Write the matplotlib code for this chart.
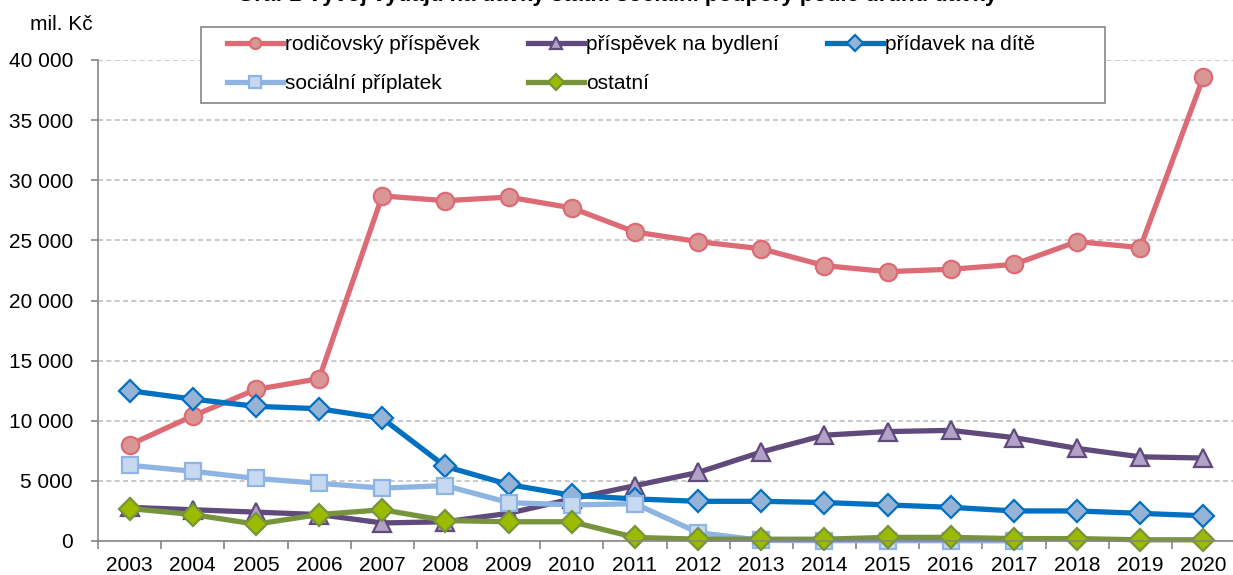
import numpy as np
import matplotlib.pyplot as plt
from matplotlib.patches import Rectangle
from matplotlib.ticker import FuncFormatter, MultipleLocator

plt.rcParams["font.family"] = ["Liberation Sans", "DejaVu Sans"]

years = list(range(2003, 2021))

rodicovsky = [8000, 10400, 12600, 13500, 28700, 28300, 28600, 27700, 25700,
              24900, 24300, 22900, 22400, 22600, 23000, 24900, 24400, 38600]
bydleni = [2800, 2600, 2400, 2200, 1500, 1600, 2300, 3500, 4600,
           5700, 7400, 8800, 9100, 9200, 8600, 7700, 7000, 6900]
pridavek = [12500, 11800, 11200, 11000, 10200, 6200, 4700, 3800, 3500,
            3300, 3300, 3200, 3000, 2800, 2500, 2500, 2300, 2100]
socialni = [6300, 5800, 5200, 4800, 4400, 4600, 3200, 3000, 3100,
            700, 50, 30, 20, 20, 10]
ostatni = [2700, 2200, 1400, 2200, 2600, 1700, 1600, 1600, 300,
           150, 150, 150, 300, 300, 200, 200, 100, 100]

series = [
    ("rodičovský příspěvek", rodicovsky, "#DC6B76", "o", "#D99694", 12.5),
    ("příspěvek na bydlení", bydleni, "#604A7B", "^", "#B3A2C7", 12.5),
    ("přídavek na dítě", pridavek, "#0070C0", "D", "#95B3D7", 11),
    ("sociální příplatek", socialni, "#8EB4E3", "s", "#C6D9F1", 11.5),
    ("ostatní", ostatni, "#77933C", "D", "#9BBB00", 11),
]

W, H = 1233, 575
FS = 15
fig = plt.figure(figsize=(W / 100, H / 100), dpi=100)
ax = fig.add_axes([98 / W, 1 - 541 / H, (1235 - 98) / W, (541 - 60) / H])

x = np.arange(len(years))
for name, vals, col, mk, fc, ms in series:
    ax.plot(x[:len(vals)], vals, color=col, lw=3.8, marker=mk, ms=ms,
            mfc=fc, mec=col, mew=1.6, label=name, clip_on=False)

ax.set_xlim(-0.5, len(years) - 0.5)
ax.set_ylim(0, 40000)
ax.yaxis.set_major_locator(MultipleLocator(5000))
ax.yaxis.set_major_formatter(FuncFormatter(lambda v, p: f"{int(v):,}".replace(",", " ")))
ax.set_xticks(x)
ax.set_xticklabels([str(y) for y in years])
ax.set_xticks(np.arange(-0.5, len(years)), minor=True)
ax.tick_params(axis="x", which="major", length=0, pad=11, labelsize=FS)
ax.tick_params(axis="x", which="minor", length=6, color="#868686", width=1.2)
ax.tick_params(axis="y", length=5, color="#868686", width=1.2, labelsize=FS, pad=13)

ax.grid(axis="y", color="#BFBFBF", ls=(0, (3, 2)), lw=1.2)
ax.set_axisbelow(True)
for s in ("top", "right"):
    ax.spines[s].set_visible(False)
for s in ("left", "bottom"):
    ax.spines[s].set_color("#868686")
    ax.spines[s].set_linewidth(1.2)

fig.text(61 / W, 1 - 24 / H, "mil. Kč", fontsize=FS, va="center", ha="center")
fig.text(617 / W, 1 - 1 / H,
         "Graf 1 Vývoj výdajů na dávky státní sociální podpory podle druhu dávky",
         fontsize=16, fontweight="bold", ha="center", va="baseline")

# legend: fixed-size box like the source, entries filled row by row
fig.patches.append(Rectangle((201 / W, 1 - 103 / H), 904 / W, 76 / H,
                             transform=fig.transFigure, fill=True, fc="white",
                             ec="#868686", lw=1.2, zorder=5))
lines = {l.get_label(): l for l in ax.get_lines()}
order = ["rodičovský příspěvek", "sociální příplatek", "příspěvek na bydlení",
         "ostatní", "přídavek na dítě"]
leg = fig.legend([lines[k] for k in order], order, loc="upper left",
                 bbox_to_anchor=(227 / W, 1 - 35 / H), ncol=3, fontsize=FS,
                 frameon=False, handlelength=2.7, handletextpad=0.1,
                 columnspacing=2.3, borderpad=0, borderaxespad=0, labelspacing=0.95)
leg.set_zorder(6)
for h in leg.legend_handles:
    h.set_markersize(8)

fig.savefig("out.png", dpi=100)
